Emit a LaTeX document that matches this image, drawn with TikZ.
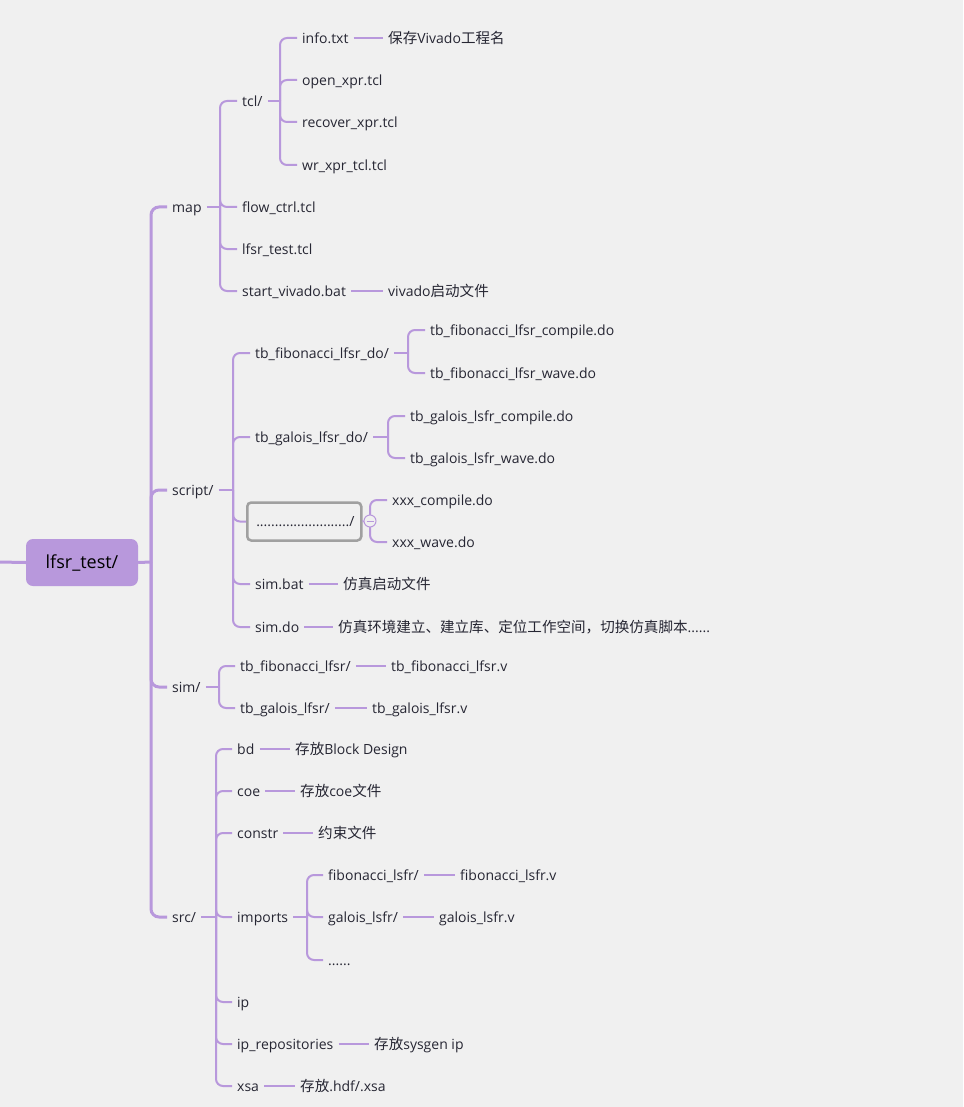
\documentclass[tikz,border=0pt]{standalone}
\usepackage{fontspec}
\setmainfont{Open Sans}
\newfontfamily\cjk{Noto Sans CJK SC}[Scale=1.04]
\definecolor{bg}{HTML}{F0F0F0}
\definecolor{pu}{HTML}{B898DC}
\definecolor{txt}{HTML}{262633}
\definecolor{boxgray}{HTML}{A0A0A0}
\tikzset{
  lbl/.style={anchor=west, inner xsep=5pt, inner ysep=0pt, text height=10.5pt, text depth=0pt,
    font=\fontsize{14}{16}\selectfont, text=txt},
  lone/.style={draw=pu, line width=3pt, rounded corners=8pt},
  ltwo/.style={draw=pu, line width=2pt, rounded corners=7pt},
  rootbox/.style={fill=pu, rounded corners=7pt, minimum width=112pt, minimum height=47pt,
    font=\fontsize{18}{20}\selectfont, text=black, inner sep=0pt},
}
\begin{document}
\begin{tikzpicture}[x=1pt,y=-1pt]
\fill[bg] (0,0) rectangle (963,1107);
\useasboundingbox (0,0) rectangle (963,1107);

% root
\node[rootbox] (root) at (82,562.5) {lfsr\_test/};
\coordinate (lft) at (-2,562);
\coordinate (jroot) at (151,562);

% level 1
\node[lbl] (map) at (167,207) {map};
\node[lbl] (script) at (167,490) {script/};
\node[lbl] (sim) at (167,687) {sim/};
\node[lbl] (src) at (167,917) {src/};

\draw[lone] (lft) -- (root.west);
\draw[lone] (root.east) -- (jroot);
\foreach \c in {map,script,sim,src} \draw[lone] (jroot) |- (\c.west);

% map
\coordinate (jmap) at (220,207);
\node[lbl] (tcl) at (237,101) {tcl/};
\node[lbl] (flow) at (237,207) {flow\_ctrl.tcl};
\node[lbl] (lfsrtcl) at (237,249) {lfsr\_test.tcl};
\node[lbl] (startv) at (237,291) {start\_vivado.bat};
\draw[ltwo] (map.east) -- (jmap);
\foreach \c in {tcl,flow,lfsrtcl,startv} \draw[ltwo] (jmap) |- (\c.west);

% tcl
\coordinate (jtcl) at (280,101);
\node[lbl] (info) at (297,38) {info.txt};
\node[lbl] (openx) at (297,80) {open\_xpr.tcl};
\node[lbl] (recx) at (297,122) {recover\_xpr.tcl};
\node[lbl] (wrx) at (297,165) {wr\_xpr\_tcl.tcl};
\draw[ltwo] (tcl.east) -- (jtcl);
\foreach \c in {info,openx,recx,wrx} \draw[ltwo] (jtcl) |- (\c.west);

\node[lbl] (infoN) at (383,38) {{\cjk 保存}Vivado{\cjk 工程名}};
\node[lbl] (startvN) at (383,291) {vivado{\cjk 启动文件}};
\draw[ltwo] (info.east) -- (infoN.west);
\draw[ltwo] (startv.east) -- (startvN.west);

% script
\coordinate (jscript) at (233,490);
\node[lbl] (tbfd) at (250,353) {tb\_fibonacci\_lfsr\_do/};
\node[lbl] (tbgd) at (250,437) {tb\_galois\_lfsr\_do/};
\node[draw=boxgray, line width=2.5pt, rounded corners=4pt, anchor=west, text width=96pt,
  inner xsep=9pt, inner ysep=0pt, minimum height=38pt, align=left, text height=10.5pt, text depth=0pt,
  font=\fontsize{14}{16}\selectfont, text=txt] (box) at (246,521.5) {........................./};
\node[lbl] (simbat) at (250,584) {sim.bat};
\node[lbl] (simdo) at (250,627) {sim.do};
\draw[ltwo] (script.east) -- (jscript);
\foreach \c in {tbfd,tbgd,box,simbat,simdo} \draw[ltwo] (jscript) |- (\c.west);

\coordinate (jtbfd) at (408,353);
\node[lbl] (tbfc) at (425,330) {tb\_fibonacci\_lfsr\_compile.do};
\node[lbl] (tbfw) at (425,373) {tb\_fibonacci\_lfsr\_wave.do};
\draw[ltwo] (tbfd.east) -- (jtbfd);
\foreach \c in {tbfc,tbfw} \draw[ltwo] (jtbfd) |- (\c.west);

\coordinate (jtbgd) at (388,437);
\node[lbl] (tbgc) at (405,416) {tb\_galois\_lsfr\_compile.do};
\node[lbl] (tbgw) at (405,458) {tb\_galois\_lsfr\_wave.do};
\draw[ltwo] (tbgd.east) -- (jtbgd);
\foreach \c in {tbgc,tbgw} \draw[ltwo] (jtbgd) |- (\c.west);

\coordinate (jbox) at (370,521);
\node[lbl] (xc) at (387,500) {xxx\_compile.do};
\node[lbl] (xw) at (387,542) {xxx\_wave.do};
\foreach \c in {xc,xw} \draw[ltwo] (jbox) |- (\c.west);
\node[circle, draw=pu, fill=bg, line width=1pt, minimum size=12pt, inner sep=0pt] (cb) at (jbox) {};
\draw[pu, line width=1pt] ([xshift=-3.5pt]cb.center) -- ([xshift=3.5pt]cb.center);
\draw[ltwo] (box.east) -- (cb.west);

\node[lbl] (simbatN) at (338,584) {\cjk 仿真启动文件};
\node[lbl] (simdoN) at (333,627) {{\cjk 仿真环境建立、建立库、定位工作空间，切换仿真脚本}......};
\draw[ltwo] (simbat.east) -- (simbatN.west);
\draw[ltwo] (simdo.east) -- (simdoN.west);

% sim
\coordinate (jsim) at (219,687);
\node[lbl] (tbfl) at (235,666) {tb\_fibonacci\_lfsr/};
\node[lbl] (tbgl) at (235,708) {tb\_galois\_lfsr/};
\draw[ltwo] (sim.east) -- (jsim);
\foreach \c in {tbfl,tbgl} \draw[ltwo] (jsim) |- (\c.west);
\node[lbl] (tbflN) at (386,666) {tb\_fibonacci\_lfsr.v};
\node[lbl] (tbglN) at (367,708) {tb\_galois\_lfsr.v};
\draw[ltwo] (tbfl.east) -- (tbflN.west);
\draw[ltwo] (tbgl.east) -- (tbglN.west);

% src
\coordinate (jsrc) at (216,917);
\node[lbl] (bd) at (232,749) {bd};
\node[lbl] (coe) at (232,791) {coe};
\node[lbl] (constr) at (232,833) {constr};
\node[lbl] (imports) at (232,917) {imports};
\node[lbl] (ip) at (232,1002) {ip};
\node[lbl] (iprep) at (232,1044) {ip\_repositories};
\node[lbl] (xsa) at (232,1086) {xsa};
\draw[ltwo] (src.east) -- (jsrc);
\foreach \c in {bd,coe,constr,imports,ip,iprep,xsa} \draw[ltwo] (jsrc) |- (\c.west);

\node[lbl] (bdN) at (290,749) {{\cjk 存放}Block Design};
\node[lbl] (coeN) at (295,791) {{\cjk 存放}coe{\cjk 文件}};
\node[lbl] (constrN) at (313,833) {\cjk 约束文件};
\node[lbl] (iprepN) at (369,1044) {{\cjk 存放}sysgen ip};
\node[lbl] (xsaN) at (295,1086) {{\cjk 存放}.hdf/.xsa};
\draw[ltwo] (bd.east) -- (bdN.west);
\draw[ltwo] (coe.east) -- (coeN.west);
\draw[ltwo] (constr.east) -- (constrN.west);
\draw[ltwo] (iprep.east) -- (iprepN.west);
\draw[ltwo] (xsa.east) -- (xsaN.west);

\coordinate (jimp) at (307,917);
\node[lbl] (fl) at (323,875) {fibonacci\_lsfr/};
\node[lbl] (gl) at (323,917) {galois\_lsfr/};
\node[lbl] (dots) at (323,960) {......};
\draw[ltwo] (imports.east) -- (jimp);
\foreach \c in {fl,gl,dots} \draw[ltwo] (jimp) |- (\c.west);
\node[lbl] (flN) at (455,875) {fibonacci\_lsfr.v};
\node[lbl] (glN) at (434,917) {galois\_lsfr.v};
\draw[ltwo] (fl.east) -- (flN.west);
\draw[ltwo] (gl.east) -- (glN.west);
\end{tikzpicture}
\end{document}
